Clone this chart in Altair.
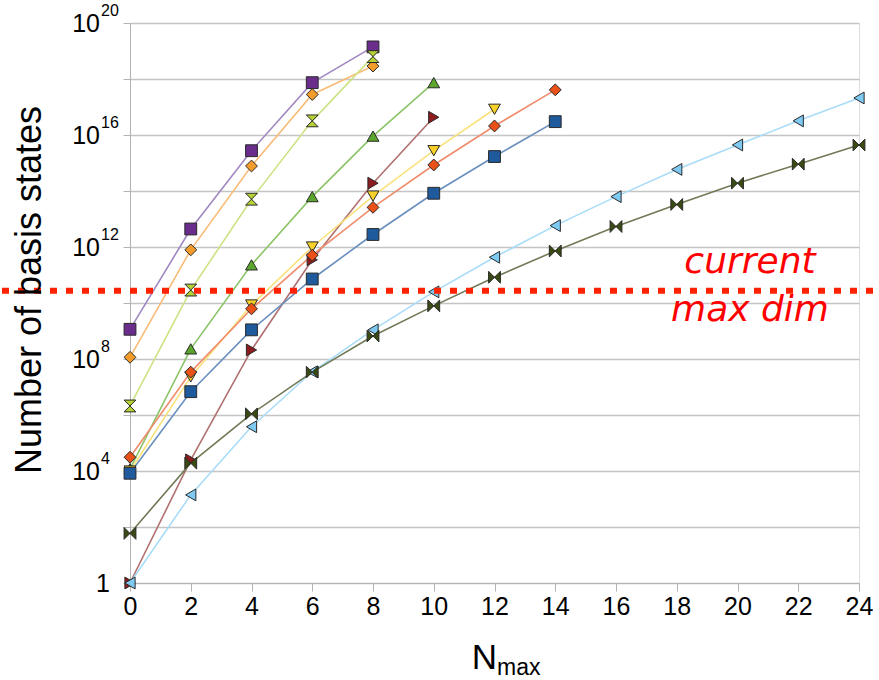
import altair as alt
import pandas as pd

# ---- data ----
nmax_short = [0, 2, 4, 6, 8]
nmax_10 = [0, 2, 4, 6, 8, 10]
nmax_12 = [0, 2, 4, 6, 8, 10, 12]
nmax_14 = [0, 2, 4, 6, 8, 10, 12, 14]
nmax_24 = [0, 2, 4, 6, 8, 10, 12, 14, 16, 18, 20, 22, 24]

purple_sq = [1.15e9, 4.4e12, 2.75e15, 7.4e17, 1.4e19]
orange_dia = [1.15e8, 7.9e11, 7.8e14, 2.8e17, 2.9e18]
lime_hour = [2.1e6, 2.9e10, 5.1e13, 3.2e16, 6.3e18]
green_tri = [1.2e4, 2.3e8, 2.3e11, 6.3e13, 9.1e15, 7.4e17]
darkred_tri = [1.0, 2.5e4, 2.1e8, 3.5e11, 1.9e14, 4.3e16]
yellow_tri = [1.0e4, 2.3e7, 8.5e9, 1.0e12, 6.6e13, 2.75e15, 8.3e16]
redorange_dia = [3.1e4, 3.4e7, 6.2e9, 5.1e11, 2.6e13, 8.5e14, 2.1e16, 4.1e17]
blue_sq = [8.3e3, 6.8e6, 1.1e9, 7.2e10, 2.8e12, 8.3e13, 1.7e15, 3.0e16]
lightblue_tri = [1.0, 1.4e3, 3.8e5, 3.5e7, 1.1e9, 2.5e10, 4.3e11, 5.8e12,
                 6.3e13, 5.9e14, 4.4e15, 3.2e16, 2.1e17]
olive_bow = [59, 1.9e4, 1.1e6, 3.4e7, 6.6e8, 7.9e9, 8.3e10, 7.2e11,
             5.4e12, 3.3e13, 1.9e14, 9.1e14, 4.4e15]

max_dim = 2.75e10

x_ticks = [0, 2, 4, 6, 8, 10, 12, 14, 16, 18, 20, 22, 24]
y_grid = [1e0, 1e2, 1e4, 1e6, 1e8, 1e10, 1e12, 1e14, 1e16, 1e18, 1e20]
y_label_values = [1e4, 1e8, 1e12, 1e16, 1e20]
y_label_base = ["10", "10", "10", "10", "10"]
y_label_exp = ["4", "8", "12", "16", "20"]

NARROW = "Liberation Sans Narrow, Arial Narrow, Liberation Sans"

# ---- styles ----
HOURGLASS = "M-1,-1L1,-1L-1,1L1,1Z"
BOWTIE = "M-1,-1L1,1L1,-1L-1,1Z"
series = [
    # name, x, y, marker colour, line colour, shape
    ("s1", nmax_short, purple_sq, "#6b2d8c", "#a088c0", "square"),
    ("s2", nmax_short, orange_dia, "#f39c2c", "#f8bc78", "diamond"),
    ("s3", nmax_short, lime_hour, "#b5d334", "#cce384", HOURGLASS),
    ("s4", nmax_10, green_tri, "#5ca52c", "#8cc468", "triangle-up"),
    ("s5", nmax_10, darkred_tri, "#8e1c1e", "#b07070", "triangle-right"),
    ("s6", nmax_12, yellow_tri, "#f7d127", "#f9e27a", "triangle-down"),
    ("s7", nmax_14, redorange_dia, "#ea5118", "#f08c6c", "diamond"),
    ("s8", nmax_14, blue_sq, "#1f5a9c", "#6a8fbe", "square"),
    ("s9", nmax_24, lightblue_tri, "#7fcaf2", "#a8dcf8", "triangle-left"),
    ("s10", nmax_24, olive_bow, "#394a12", "#707a56", BOWTIE),
]

rows = []
for name, xs, ys, mc, lc, shp in series:
    for xv, yv in zip(xs, ys):
        rows.append({"series": name, "nmax": xv, "dim": yv, "mc": mc, "lc": lc})
df = pd.DataFrame(rows)

names = [s[0] for s in series]
shapes = [s[5] for s in series]

xscale = alt.Scale(domain=[0, 24], nice=False, zero=False)
yscale = alt.Scale(type="log", domain=[1, 1e20], nice=False)

X = alt.X("nmax:Q", scale=xscale,
          axis=alt.Axis(values=x_ticks, title=None, grid=False,
                        labelFontSize=25, labelFont=NARROW,
                        labelColor="black", labelPadding=3,
                        domainColor="#b3b3b3", tickColor="#b3b3b3", tickSize=8,
                        labelFlush=False))
Y = alt.Y("dim:Q", scale=yscale,
          axis=alt.Axis(values=y_grid, labels=False, title=None, grid=True,
                        gridColor="#c4c4c4", gridWidth=1.3,
                        domainColor="#b3b3b3", tickColor="#b3b3b3", tickSize=7))

base = alt.Chart(df)
lines = base.mark_line(strokeWidth=1.6).encode(
    x=X, y=Y, detail="series:N",
    color=alt.Color("lc:N", scale=None),
)
points = base.mark_point(filled=True, size=140, opacity=1, stroke="#2a2a2a",
                         strokeWidth=1).encode(
    x=alt.X("nmax:Q", scale=xscale),
    y=alt.Y("dim:Q", scale=yscale),
    fill=alt.Fill("mc:N", scale=None),
    shape=alt.Shape("series:N", scale=alt.Scale(domain=names, range=shapes), legend=None),
)

red_line = alt.Chart(pd.DataFrame({"dim": [max_dim]})).mark_rule(
    color="#ff2200", strokeWidth=6, strokeDash=[7, 9]
).encode(y=alt.Y("dim:Q", scale=yscale), x=alt.value(-128), x2=alt.value(749))

lab_df = pd.DataFrame({"dim": y_label_values, "base": y_label_base, "exp": y_label_exp})
lab_base = alt.Chart(lab_df).mark_text(
    align="right", baseline="middle", fontSize=25, font=NARROW, dy=1, color="black"
).encode(y=alt.Y("dim:Q", scale=yscale), x=alt.value(-30), text="base:N")
lab_exp = alt.Chart(lab_df).mark_text(
    align="left", baseline="middle", fontSize=16, font=NARROW, dy=-12, dx=1, color="black"
).encode(y=alt.Y("dim:Q", scale=yscale), x=alt.value(-30), text="exp:N")
lab_one = alt.Chart(pd.DataFrame({"dim": [1.0], "t": ["1"]})).mark_text(
    align="right", baseline="middle", fontSize=25, font=NARROW, dy=1, color="black"
).encode(y=alt.Y("dim:Q", scale=yscale), x=alt.value(-20), text="t:N")

ytitle = alt.Chart(pd.DataFrame({"t": ["Number of basis states"]})).mark_text(
    angle=270, fontSize=36, font=NARROW, color="black", baseline="middle", align="center"
).encode(x=alt.value(-100), y=alt.value(267), text="t:N")

xt_N = alt.Chart(pd.DataFrame({"t": ["N"]})).mark_text(
    align="right", baseline="alphabetic", fontSize=35, font=NARROW, color="black"
).encode(x=alt.value(367), y=alt.value(646), text="t:N")
xt_max = alt.Chart(pd.DataFrame({"t": ["max"]})).mark_text(
    align="left", baseline="alphabetic", fontSize=23, font=NARROW, color="black"
).encode(x=alt.value(367), y=alt.value(652), text="t:N")

note = alt.Chart(pd.DataFrame({"t": ["current", "max dim"], "yy": [239, 287]})).mark_text(
    align="center", baseline="middle", fontSize=36, font="DejaVu Sans", fontStyle="italic",
    color="#ff0000"
).encode(x=alt.value(620), y=alt.Y("yy:Q", scale=None), text="t:N")

chart = alt.layer(
    lines, points, red_line, lab_base, lab_exp, lab_one, ytitle, xt_N, xt_max, note
).properties(
    width=729, height=560,
    padding={"left": 130, "top": 23, "right": 20, "bottom": 97},
    autosize=alt.AutoSizeParams(type="none"),
).configure_view(stroke="#b3b3b3", strokeWidth=1.3).configure(background="white")

chart.save("out.html", embed_options={"renderer": "svg", "actions": False})
